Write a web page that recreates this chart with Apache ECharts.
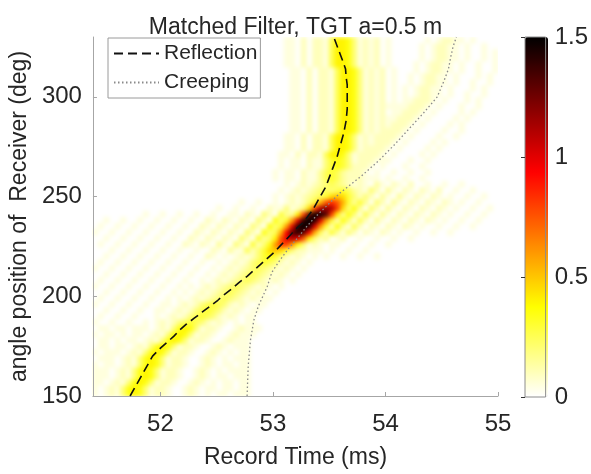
<!DOCTYPE html>
<html><head><meta charset="utf-8">
<script src="https://cdn.jsdelivr.net/npm/echarts@6/dist/echarts.min.js"></script>
<style>
html,body{margin:0;padding:0;background:#fff}
#wrap{position:relative;width:591px;height:474px}
#heat,#c{position:absolute;left:0;top:0;width:591px;height:474px}
#heat{filter:blur(2px);clip-path:inset(37px 93px 77px 92px)}
</style>
</head><body><div id="wrap"><div id="heat"></div><div id="c"></div></div>
<script>
// ---- data ----
const xTicks = [52, 53, 54, 55];
const yTicks = [150, 200, 250, 300];
const cbTicks = [0, 0.5, 1, 1.5];

// matched-filter intensity grid: columns of 0.05 ms from 51.4 ms, rows of 3 deg from 150 deg
const timeStart = 51.4, timeStep = 0.05, timeCount = 72;
const angleStart = 150, angleStep = 3;
const levelStep = 0.05; // one base-36 digit = 0.05 of intensity
// each row: "startColumn:levels" segments (bottom row first)
const mfRows = [
"0:101214787412210012101 21:01101 26:11",
"0:101214787412210012101 21:10110 26:11",
"0:1101214787412210012101 22:0110 26:11",
"0:1 1:1101214787412210012101 23:101 26:11",
"0:1 1:1101214787412210012101 23:011 26:11",
"0:10 2:1101214787412210012101 24:10 26:11",
"0:01 2:1101214787412210012101 24:01 26:11",
"0:101 3:1101214787412210012101 25:011",
"0:0110 4:1101214787412210012101 26:11",
"0:011010 6:1101214787412210012101 26:11",
"0:1011010 7:1101214787412210012101 27:11",
"0:01101101 8:1101214787412210012101 27:11",
"0:10010010 9:10121245654212101 27:11",
"0:0100100100 11:10121245654212101 28:1",
"0:001001001001 12:10121245654212101 28:11",
"0:1001001001001 13:10121245654212101 29:11",
"0:010010010010010 15:10121234543212101 30:1",
"0:0010010010010010 16:10121234543212101",
"0:10010010010010010 17:10121234543212101",
"0:0100100100100100100 19:10121234543212101",
"0:00100100100100100100 20:10121234543212101",
"0:100100100100100100100 21:10121234543212101",
"0:0100100100100100100100 22:10121245654212101",
"0:00100100100100100100210 23:10121246764212101 40:01001001001",
"0:0001001001001001001002103105 24:10121245654212101 28:2469a9642 38:01001001001",
"0:01001001001001002102103104206 26:10121245654212101 29:147cggc741 40:1001001001001",
"0:0010010010010010021021021042063 27:10121245654212101 31:48fkmkf84 41:3002001001001001",
"0:10010010010010010021021021042074 28:10121245654212101 32:5bjqsqjb5 42:6304202102101001001001",
"0:010010010010010010021021021042074 29:10121245654212101 33:6cksuskc6 43:7305202102102101001001001",
"0:0010010010010010010021021021042074 30:10121245654212101 34:6cksuskc6 44:7405203102102102101001001",
"0:00000000010010010010010011021042063 31:10121245654212101 35:38gqttqg83 45:7405203102102102101001001",
"22:10010010021041 31:10121245654212101 37:49gmomg94 46:7304203102102102101001001",
"26:1001001002 32:10121245654212101 38:36bfhfb63 47:6304203102102102101001",
"32:10121234543212101 39:2469a9642 48:4203103102102101001001",
"33:10121234543212101 40:123565321 49:4203102102102001001",
"34:10121234543212101 42:12321 50:3102102001001001",
"32:1011021135653112101 40:1011222101 52:1001001",
"32:1011021135653112101 41:1011222101 53:1001001",
"33:1011021146764112101 42:1011222101 55:1001",
"33:1011021146764112101 43:1011222101 56:1001",
"33:1102022158874121201 44:1011222101 58:101",
"34:1102022158874121201 45:1011222101 59:101",
"34:1102022158874121201 46:1011222101 60:101",
"34:1102022158874121201 47:1011222101 61:1001",
"35:1102022158874121201 48:1011222101 62:1001",
"35:1102022158874121201 49:1011222101 63:101",
"35:1102022158874121201 50:1011222101 64:101",
"35:1102022158874121201 51:1011222101 65:101",
"35:1102022158874121201 52:1011222101 65:1001",
"35:1102022158874121201 53:1011222101 66:101",
"35:1102022158874121201 54:0101221101 66:1001",
"35:1102022158874121201 54:0101221101 67:101",
"35:1102022158874121201 55:0101221101 67:1001",
"35:1102022158874121201 55:0101221101 68:101",
"35:1102022158874121201 56:0101221101 68:1001",
"34:1102022158874121201 56:0101221101 68:1001",
"34:1102022158874121201 57:0101221101 69:101",
"34:1102022158874121201 57:0101221101 69:101",
"34:1102022158874121201 57:0101221101 69:10",
"34:1102022158874121201 58:0101221101"
];

// Reflection curve (dashed)
const reflDeg = [150,155,160,165,170,174,177,180,183,186,189,192,195,198,201,204,207,210,213,216,219,222,225,228,231,234,237,240,243,246,249,252,255,258,261,264,267,270,276,282,288,294,300,306,310,314,318,321,324,327,330];
const reflT = [51.73,51.78,51.83,51.88,51.93,52.00,52.06,52.12,52.17,52.23,52.30,52.37,52.44,52.51,52.57,52.64,52.70,52.77,52.83,52.89,52.95,53.01,53.06,53.11,53.16,53.21,53.27,53.31,53.35,53.38,53.41,53.44,53.47,53.49,53.51,53.53,53.55,53.57,53.60,53.63,53.65,53.66,53.66,53.66,53.65,53.645,53.62,53.60,53.58,53.56,53.54];
// Creeping curve (dotted)
const creepDeg = [150,165,178,188,195,205,212,218,224,230,235,240,246,252,260,268,276,284,292,300,308,314,320,325,330];
const creepT = [52.77,52.78,52.80,52.83,52.87,52.95,52.99,53.06,53.14,53.23,53.30,53.38,53.49,53.60,53.78,53.94,54.08,54.21,54.34,54.46,54.52,54.56,54.58,54.60,54.63];

// ---- build tables ----
const heat = [];
mfRows.forEach((row, i) => {
  const cells = new Array(timeCount).fill(0);
  row.split(' ').forEach(seg => {
    const parts = seg.split(':');
    const start = +parts[0], chars = parts[1];
    for (let k = 0; k < chars.length; k++) {
      const j = start + k;
      if (j < 0 || j >= timeCount) continue;
      cells[j] = Math.max(cells[j], parseInt(chars[k], 36));
    }
  });
  cells.forEach((lv, j) => {
    if (lv > 0) heat.push([timeStart + (j + 0.5) * timeStep, angleStart + (i + 0.5) * angleStep, lv * levelStep]);
  });
});
const reflData = reflT.map((t, k) => [t, reflDeg[k]]);
const creepData = creepT.map((t, k) => [t, creepDeg[k]]);

// reversed "hot" colormap
function hotRev(v) {
  const r = v <= 0.9375 ? 1 : 1 - (v - 0.9375) / 0.5625;
  const g = v <= 0.375 ? 1 : (v <= 0.9375 ? 1 - (v - 0.375) / 0.5625 : 0);
  const b = v <= 0.375 ? 1 - v / 0.375 : 0;
  const c = x => Math.round(Math.max(0, Math.min(1, x)) * 255);
  return 'rgb(' + c(r) + ',' + c(g) + ',' + c(b) + ')';
}
const cmap = [];
for (let k = 0; k <= 48; k++) cmap.push(hotRev(k * 1.5 / 48));

const FONT = "'Liberation Sans', Arial, Helvetica, sans-serif";
const TXT = '#262626';
const AXC = '#a6a6a6';
const mainGrid = {left: 92, top: 37, width: 406, height: 360, containLabel: false};

// ---- heat layer (smoothed by CSS blur, clipped to the plot area) ----
const heatChart = echarts.init(document.getElementById('heat'), null, {renderer: 'canvas'});
heatChart.setOption({
  animation: false,
  backgroundColor: '#fff',
  grid: mainGrid,
  xAxis: {type: 'value', min: 51.4, max: 55, show: false},
  yAxis: {type: 'value', min: 150, max: 330, show: false},
  visualMap: {
    type: 'continuous', show: false, min: 0, max: 1.5, seriesIndex: 0, dimension: 2,
    inRange: {color: cmap}
  },
  series: [{
    type: 'custom', clip: true, silent: true,
    data: heat, encode: {x: 0, y: 1},
    renderItem: function (params, api) {
      const t = api.value(0), a = api.value(1);
      const p0 = api.coord([t - timeStep / 2, a + angleStep / 2]);
      const p1 = api.coord([t + timeStep / 2, a - angleStep / 2]);
      return {
        type: 'rect',
        shape: {x: p0[0], y: p0[1], width: p1[0] - p0[0] + 0.6, height: p1[1] - p0[1] + 0.6},
        style: {fill: api.visual('color')}
      };
    }
  }]
});

// ---- axes, lines, legend, title, colorbar ----
const chart = echarts.init(document.getElementById('c'), null, {renderer: 'canvas'});
chart.setOption({
  animation: false,
  backgroundColor: 'transparent',
  textStyle: {fontFamily: FONT},
  title: {
    text: 'Matched Filter, TGT a=0.5 m', left: 'center', top: 11,
    textStyle: {fontSize: 23, fontWeight: 'normal', color: TXT, fontFamily: FONT}
  },
  legend: {
    orient: 'vertical', left: 108, top: 38,
    padding: [5, 3, 5, 5], itemGap: 8, itemWidth: 45, itemHeight: 14,
    backgroundColor: '#fff', borderColor: '#9a9a9a', borderWidth: 1,
    textStyle: {fontSize: 21, color: TXT, fontFamily: FONT},
    itemStyle: {opacity: 0},
    data: ['Reflection', 'Creeping']
  },
  grid: [
    mainGrid,
    {left: 525, top: 37, width: 23, height: 360, show: true, borderColor: '#8c8c8c', borderWidth: 1, backgroundColor: 'transparent', z: 10}
  ],
  xAxis: [
    {
      type: 'value', gridIndex: 0, min: 51.4, max: 55,
      axisLine: {show: true, lineStyle: {color: AXC, width: 1}},
      axisTick: {show: true, inside: true, length: 4, customValues: xTicks, lineStyle: {color: AXC}},
      axisLabel: {customValues: xTicks, fontSize: 24, color: TXT, margin: 16, fontFamily: FONT},
      splitLine: {show: false},
      name: 'Record Time (ms)', nameLocation: 'middle', nameGap: 50,
      nameTextStyle: {fontSize: 23, color: TXT, fontFamily: FONT}
    },
    {type: 'value', gridIndex: 1, min: 0, max: 1, show: false}
  ],
  yAxis: [
    {
      type: 'value', gridIndex: 0, min: 150, max: 330,
      axisLine: {show: true, lineStyle: {color: AXC, width: 1}},
      axisTick: {show: true, inside: true, length: 4, customValues: yTicks, lineStyle: {color: AXC}},
      axisLabel: {customValues: yTicks, fontSize: 24, color: TXT, margin: 11, fontFamily: FONT},
      splitLine: {show: false},
      name: 'angle position of  Receiver (deg)', nameLocation: 'middle', nameGap: 58, nameRotate: 90,
      nameTextStyle: {fontSize: 23, color: TXT, fontFamily: FONT}
    },
    {
      type: 'value', gridIndex: 1, min: 0, max: 1.5, interval: 0.5, position: 'right', z: 10,
      axisLine: {show: false},
      axisTick: {show: true, inside: true, length: 4, customValues: cbTicks, lineStyle: {color: '#333'}},
      axisLabel: {customValues: cbTicks, fontSize: 24, color: TXT, margin: 9, fontFamily: FONT, formatter: v => String(v)},
      splitLine: {show: false}
    }
  ],
  visualMap: {
    type: 'continuous', min: 0, max: 1.5, seriesIndex: [],
    calculable: false, hoverLink: false, orient: 'vertical',
    left: 525, top: 37, itemWidth: 23, itemHeight: 360, padding: 0,
    text: null, inRange: {color: cmap}
  },
  series: [
    {
      name: 'Reflection', type: 'line', xAxisIndex: 0, yAxisIndex: 0, data: reflData,
      symbol: 'none', silent: true, z: 3,
      lineStyle: {color: '#111', width: 1.6, type: [9, 5]}
    },
    {
      name: 'Creeping', type: 'line', xAxisIndex: 0, yAxisIndex: 0, data: creepData,
      symbol: 'none', silent: true, z: 3,
      lineStyle: {color: '#8a8a8a', width: 1.3, type: [1.5, 2.5]}
    }
  ]
});
</script>
</body></html>
